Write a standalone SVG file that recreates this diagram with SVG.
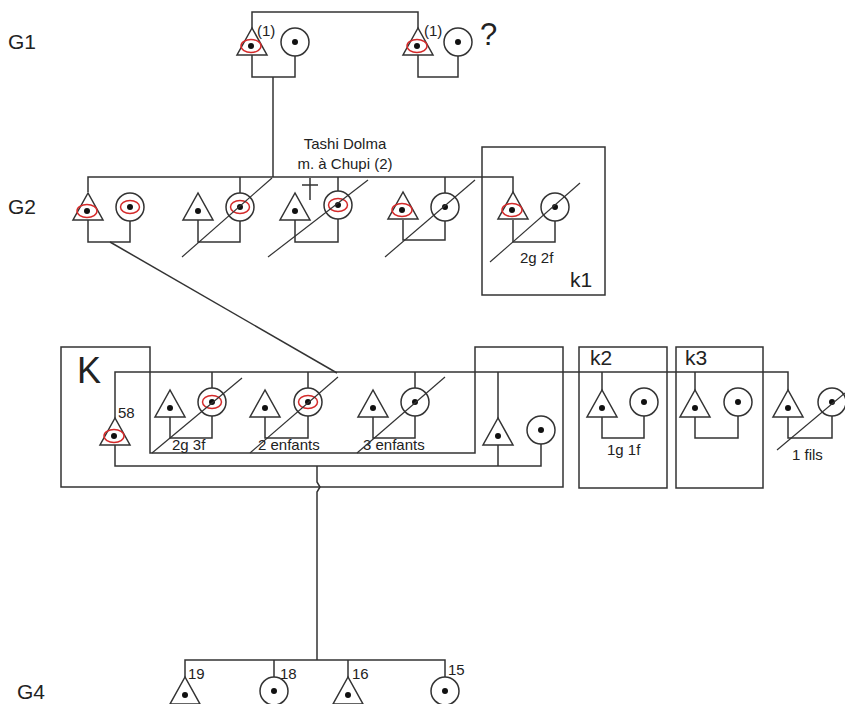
<svg xmlns="http://www.w3.org/2000/svg" xmlns:xlink="http://www.w3.org/1999/xlink" width="845" height="704" viewBox="0 0 845 704">
<style>
.ln{fill:none;stroke:#333;stroke-width:1.5}
.sl{fill:none;stroke:#333;stroke-width:1.2}
.sh{fill:#fff;stroke:#333;stroke-width:1.5}
.dot{fill:#111}
.red{fill:none;stroke:#d42a2a;stroke-width:1.5}
.t{font-family:"Liberation Sans",Arial,sans-serif;fill:#222}
.s{font-size:15px}
.g{font-size:21px}
</style>
<defs>
<g id="tri"><polygon class="sh" points="0,0 -15,27 15,27"/><circle class="dot" cx="0" cy="18" r="3"/></g>
<g id="trir"><polygon class="sh" points="0,0 -15,27 15,27"/><ellipse class="red" cx="-1" cy="18" rx="10" ry="6.5"/><circle class="dot" cx="-1" cy="18" r="3"/></g>
<g id="cir"><circle class="sh" cx="0" cy="0" r="14"/><circle class="dot" cx="0" cy="0" r="3"/></g>
<g id="cirr"><circle class="sh" cx="0" cy="0" r="14"/><ellipse class="red" cx="0" cy="0" rx="9.5" ry="6.5"/><circle class="dot" cx="0" cy="0" r="3"/></g>
</defs>
<rect width="845" height="704" fill="#fff"/>

<g id="labels">
<text class="t g" x="8" y="49">G1</text>
<text class="t g" x="8" y="214">G2</text>
<text class="t g" x="17" y="699">G4</text>
</g>

<g id="boxes">
<rect class="ln" x="482" y="147" width="123" height="148"/>
<path class="ln" d="M61,347 H150 V453 H475 V347 H563 V487 H61 Z"/>
<rect class="ln" x="579" y="347" width="88" height="141"/>
<rect class="ln" x="676" y="347" width="87" height="141"/>
<text class="t" x="77" y="383" font-size="36">K</text>
<text class="t g" x="570" y="287">k1</text>
<text class="t g" x="590" y="365">k2</text>
<text class="t g" x="685" y="365">k3</text>
</g>

<g id="connectors">
<!-- G1 -->
<path class="ln" d="M252,28 V12 H418 V28"/>
<path class="ln" d="M252,55 V77 H295 V56"/>
<path class="ln" d="M273,77 V177"/>
<path class="ln" d="M418,55 V77 H458 V56"/>
<!-- G2 -->
<path class="ln" d="M88,192 V177 H513 V192"/>
<path class="ln" d="M240,177 V193 M338,177 V191 M445,177 V193"/>
<path class="ln" d="M88,220 V242 H130 V221"/>
<path class="ln" d="M198,220 V242 H240 V221"/>
<path class="ln" d="M295,220 V242 H338 V219"/>
<path class="ln" d="M403,220 V240 H445 V221"/>
<path class="ln" d="M513,220 V242 H555 V221"/>
<path class="ln" d="M110,242 L337,373"/>
<path class="ln" d="M310,178 V200 M302,185 H318"/>
<!-- K -->
<path class="ln" d="M115,418 V372 H788 V390"/>
<path class="ln" d="M212,372 V388 M308,372 V388 M415,372 V388 M498,372 V418 M602,372 V390 M695,372 V390"/>
<path class="ln" d="M115,443 V466 H541 V444 M498,443 V466"/>
<path class="ln" d="M317,466 V482 L320,487 L317,492 V660"/>
<path class="ln" d="M170,416 V438 H212 V416"/>
<path class="ln" d="M265,416 V438 H308 V416"/>
<path class="ln" d="M373,416 V438 H415 V416"/>
<path class="ln" d="M602,416 V438 H644 V416"/>
<path class="ln" d="M695,416 V438 H738 V416"/>
<path class="ln" d="M788,416 V438 H832 V416"/>
<!-- G4 -->
<path class="ln" d="M185,677 V660 H445 V677 M274,660 V677 M348,660 V677"/>
</g>

<g id="g1-a"><use xlink:href="#trir" x="252" y="28"/><text class="t" x="257" y="36" font-size="15">(1)</text></g>
<g id="g1-b"><use xlink:href="#cir" x="295" y="42"/></g>
<g id="g1-c"><use xlink:href="#trir" x="418" y="28"/><text class="t" x="424" y="36" font-size="15">(1)</text></g>
<g id="g1-d"><use xlink:href="#cir" x="458" y="42"/><text class="t" x="480" y="45" font-size="31">?</text></g>

<g id="g2-1"><use xlink:href="#trir" x="88" y="193"/></g>
<g id="g2-2"><use xlink:href="#cirr" x="130" y="207"/></g>
<g id="g2-3"><use xlink:href="#tri" x="198" y="193"/></g>
<g id="g2-4"><use xlink:href="#cirr" x="240" y="207"/></g>
<g id="g2-5"><use xlink:href="#tri" x="295" y="193"/></g>
<g id="g2-6"><use xlink:href="#cirr" x="338" y="205"/><text class="t s" x="345" y="149" text-anchor="middle">Tashi Dolma</text><text class="t s" x="345" y="169" text-anchor="middle">m. à Chupi (2)</text></g>
<g id="g2-7"><use xlink:href="#trir" x="403" y="192"/></g>
<g id="g2-8"><use xlink:href="#cir" x="445" y="207"/></g>
<g id="g2-9"><use xlink:href="#trir" x="513" y="192"/></g>
<g id="g2-10"><use xlink:href="#cir" x="555" y="207"/><text class="t s" x="520" y="263">2g 2f</text></g>

<g id="g3-58"><use xlink:href="#trir" x="115" y="418"/><text class="t s" x="118" y="418">58</text></g>
<g id="g3-a1"><use xlink:href="#tri" x="170" y="390"/></g>
<g id="g3-a2"><use xlink:href="#cirr" x="212" y="402"/><text class="t s" x="172" y="450">2g 3f</text></g>
<g id="g3-b1"><use xlink:href="#tri" x="265" y="390"/></g>
<g id="g3-b2"><use xlink:href="#cirr" x="308" y="402"/><text class="t s" x="258" y="450">2 enfants</text></g>
<g id="g3-c1"><use xlink:href="#tri" x="373" y="390"/></g>
<g id="g3-c2"><use xlink:href="#cir" x="415" y="402"/><text class="t s" x="363" y="450">3 enfants</text></g>
<g id="g3-d1"><use xlink:href="#tri" x="498" y="418"/></g>
<g id="g3-d2"><use xlink:href="#cir" x="541" y="430"/></g>
<g id="g3-e1"><use xlink:href="#tri" x="602" y="390"/></g>
<g id="g3-e2"><use xlink:href="#cir" x="644" y="402"/><text class="t s" x="607" y="455">1g 1f</text></g>
<g id="g3-f1"><use xlink:href="#tri" x="695" y="390"/></g>
<g id="g3-f2"><use xlink:href="#cir" x="738" y="402"/></g>
<g id="g3-g1"><use xlink:href="#tri" x="788" y="390"/></g>
<g id="g3-g2"><use xlink:href="#cir" x="832" y="402"/><text class="t s" x="792" y="460">1 fils</text></g>

<g id="g4-19"><use xlink:href="#tri" x="185" y="677"/><text class="t s" x="188" y="679">19</text></g>
<g id="g4-18"><use xlink:href="#cir" x="274" y="691"/><text class="t s" x="280" y="679">18</text></g>
<g id="g4-16"><use xlink:href="#tri" x="348" y="677"/><text class="t s" x="352" y="679">16</text></g>
<g id="g4-15"><use xlink:href="#cir" x="445" y="691"/><text class="t s" x="448" y="675">15</text></g>

<g id="slashes">
<path class="sl" d="M182,257 L272,178"/>
<path class="sl" d="M268,257 L368,180"/>
<path class="sl" d="M385,257 L475,180"/>
<path class="sl" d="M490,262 L580,183"/>
<path class="sl" d="M152,453 L242,378"/>
<path class="sl" d="M250,453 L338,377"/>
<path class="sl" d="M357,453 L445,377"/>
<path class="sl" d="M777,450 L845,393"/>
</g>
</svg>
